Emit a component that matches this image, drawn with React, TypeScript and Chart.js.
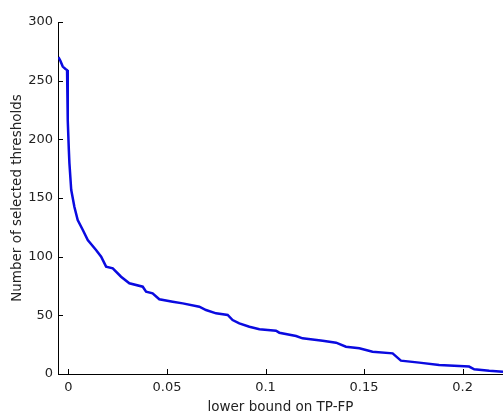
import React, { useEffect, useRef } from "react";
import { Chart, registerables } from "chart.js";

Chart.register(...registerables);

const xValues = [
  -0.0051, -0.0041, -0.0029, -0.0015, -0.0007, -0.0004, -0.0003, 0.0002, 0.0005, 0.0014,
  0.003, 0.0047, 0.0073, 0.0098, 0.014, 0.0166, 0.0191, 0.0225, 0.0267, 0.0309,
  0.0377, 0.0394, 0.0427, 0.0461, 0.0529, 0.058, 0.0664, 0.0698, 0.0749, 0.0808,
  0.0833, 0.0867, 0.0918, 0.0969, 0.1053, 0.107, 0.1155, 0.1188, 0.129, 0.1358,
  0.1408, 0.1476, 0.1543, 0.1645, 0.1687, 0.178, 0.1881, 0.2033, 0.2059, 0.2135, 0.2205,
];
const yValues = [
  270, 267, 262, 260, 259, 258, 216, 191, 179.5, 157,
  142.6, 131.3, 122.7, 114.2, 105.7, 100, 91.5, 90.1, 82.9, 77.3,
  74.4, 70.2, 68.8, 63.7, 61.6, 60.2, 57.4, 54.5, 51.7, 50.3,
  46, 43.2, 40.3, 38.1, 36.9, 35.2, 32.4, 30.4, 28.4, 26.7,
  23.3, 21.9, 19, 17.6, 11.4, 9.7, 7.7, 6.3, 4, 2.8, 2,
];
const xTickValues = [0, 0.05, 0.1, 0.15, 0.2];
const yTickValues = [0, 50, 100, 150, 200, 250, 300];
const xTitle = "lower bound on TP-FP";
const yTitle = "Number of selected thresholds";

const FONT = "'DejaVu Sans', sans-serif";

const inwardTicks = {
  id: "inwardTicks",
  afterDraw(chart: any) {
    const ctx = chart.ctx;
    const xs = chart.scales.x;
    const ys = chart.scales.y;
    const area = chart.chartArea;
    ctx.save();
    ctx.strokeStyle = "#000";
    ctx.lineWidth = 1;
    ctx.beginPath();
    xs.ticks.forEach((t: any) => {
      const px = Math.round(xs.getPixelForValue(t.value)) + 0.5;
      ctx.moveTo(px, area.bottom);
      ctx.lineTo(px, area.bottom - 5);
    });
    ys.ticks.forEach((t: any) => {
      const py = Math.round(ys.getPixelForValue(t.value)) + 0.5;
      ctx.moveTo(area.left, py);
      ctx.lineTo(area.left + 5, py);
    });
    ctx.stroke();
    ctx.restore();
  },
};

export default function App() {
  const ref = useRef<HTMLCanvasElement>(null);
  useEffect(() => {
    document.body.style.margin = "0";
    const data = xValues.map((x, i) => ({ x, y: yValues[i] }));
    const chart = new Chart(ref.current!, {
      type: "line",
      data: {
        datasets: [
          {
            data,
            borderColor: "#0a0ae0",
            borderWidth: 2.5,
            pointRadius: 0,
            tension: 0,
            fill: false,
          },
        ],
      },
      options: {
        animation: false,
        responsive: false,
        maintainAspectRatio: false,
        layout: { padding: { top: 22, right: 0, left: 0, bottom: 0 } },
        plugins: { legend: { display: false }, tooltip: { enabled: false } },
        scales: {
          x: {
            type: "linear",
            min: -0.0053,
            max: 0.2205,
            afterBuildTicks: (s: any) => {
              s.ticks = xTickValues.map((v) => ({ value: v }));
            },
            afterFit: (s: any) => {
              s.height = 41;
            },
            grid: { display: false, drawTicks: false },
            border: { display: true, color: "#000", width: 1 },
            ticks: {
              color: "#222",
              font: { family: FONT, size: 13 },
              padding: 6,
              maxRotation: 0,
              callback: (v: any) => String(Number(Number(v).toFixed(2))),
            },
            title: {
              display: true,
              text: xTitle,
              color: "#222",
              font: { family: FONT, size: 13.5 },
              padding: { top: 0, bottom: -1 },
            },
          },
          y: {
            type: "linear",
            min: 0,
            max: 300,
            afterBuildTicks: (s: any) => {
              s.ticks = yTickValues.map((v) => ({ value: v }));
            },
            afterFit: (s: any) => {
              s.width = 58;
            },
            grid: { display: false, drawTicks: false },
            border: { display: true, color: "#000", width: 1 },
            ticks: {
              color: "#222",
              font: { family: FONT, size: 13 },
              padding: 5,
              callback: (v: any) => String(v),
            },
            title: {
              display: true,
              text: yTitle,
              color: "#222",
              font: { family: FONT, size: 13.5 },
              padding: { top: 9, bottom: 0 },
            },
          },
        },
      },
      plugins: [inwardTicks],
    });
    return () => chart.destroy();
  }, []);
  return (
    <div style={{ position: "absolute", left: 0, top: 0, width: 503, height: 415 }}>
      <canvas ref={ref} width={503} height={415} />
    </div>
  );
}
